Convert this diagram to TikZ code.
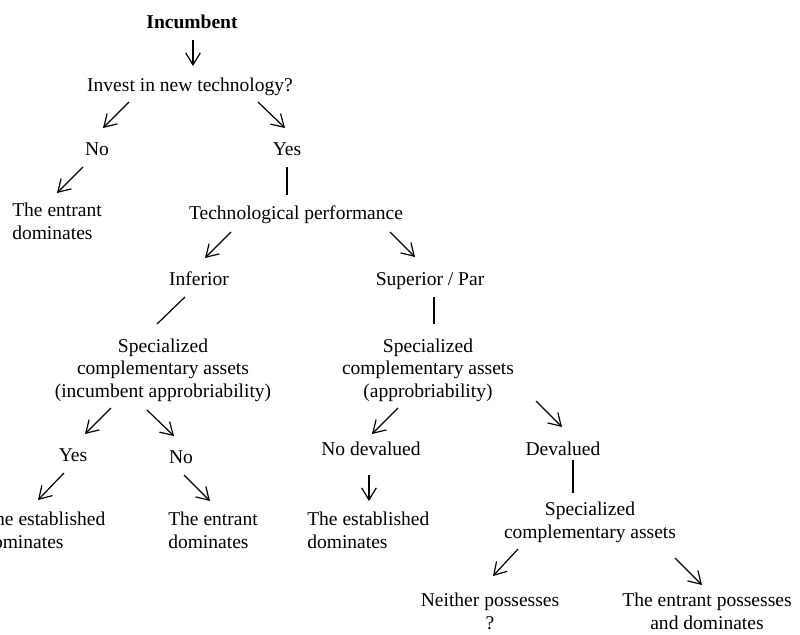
\documentclass[tikz,border=0pt]{standalone}
\usepackage{fontspec}
\setmainfont{Liberation Serif}
\usetikzlibrary{arrows.meta,calc}
\begin{document}
\begin{tikzpicture}[x=0.75pt,y=-0.75pt,
  lbl/.style={inner sep=0pt,anchor=base,font=\fontsize{14.65}{16.75}\selectfont},
  lblc/.style={lbl,align=center},
  lbll/.style={lbl,align=left,anchor=base west},
  arr/.style={line width=0.9pt,-{Straight Barb[length=9pt,width=11pt,line width=0.9pt]}},
  ln/.style={line width=0.9pt}]
\useasboundingbox (0,0) rectangle (800,635);

% decision tree nodes (multi-line nodes are placed by their last baseline)
\node[lbl,font=\fontsize{14.65}{16.75}\selectfont\bfseries] (inc) at (192,29) {Incumbent};
\node[lbl] (inv) at (190,92) {Invest in new technology?};
\node[lbl] (no) at (97,155) {No};
\node[lbl] (yes) at (287,155) {Yes};
\node[lbll] (ent1) at (12,239) {The entrant\\dominates};
\node[lbl] (tech) at (296,219) {Technological performance};
\node[lbl] (inf) at (199,285) {Inferior};
\node[lbl] (sup) at (430,285) {Superior / Par};
\node[lblc] (spec1) at (163,397) {Specialized\\complementary assets\\(incumbent approbriability)};
\node[lblc] (spec2) at (428,397) {Specialized\\complementary assets\\(approbriability)};
\node[lbl] (yes2) at (73,461) {Yes};
\node[lbl] (no2) at (181,463) {No};
\node[lbl] (nodev) at (371,455) {No devalued};
\node[lbl] (dev) at (563,455) {Devalued};
\node[lbll] (est1) at (-17,548) {The established\\dominates};
\node[lbll] (ent2) at (168,548) {The entrant\\dominates};
\node[lbll] (est2) at (307,548) {The established\\dominates};
\node[lblc] (spec3) at (590,538) {Specialized\\complementary assets};
\node[lblc] (neither) at (490,629) {Neither possesses\\?};
\node[lblc] (entposs) at (707,629) {The entrant possesses\\and dominates};

% connectors
\draw[arr] ($(inc.base)+(1,11)$) -- ($(inv.base)+(3,-26)$);
\draw[arr] ($(inv.base)+(-61,10)$) -- ($(no.base)+(6,-27)$);
\draw[arr] ($(inv.base)+(68,10)$) -- ($(yes.base)+(-2,-27)$);
\draw[arr] ($(no.base)+(-14,12)$) -- ($(ent1.base west)+(45,-46)$);
\draw[ln]  ($(yes.base)+(0,12)$) -- ($(tech.base)+(-9,-24)$);
\draw[arr] ($(tech.base)+(-65,13)$) -- ($(inf.base)+(6,-27)$);
\draw[arr] ($(tech.base)+(94,13)$) -- ($(sup.base)+(-15,-28)$);
\draw[ln]  ($(inf.base)+(-14,12)$) -- ($(spec1.base)+(-6,-73)$);
\draw[ln]  ($(sup.base)+(4,12)$) -- ($(spec2.base)+(6,-73)$);
\draw[arr] ($(spec1.base)+(-52,11)$) -- ($(yes2.base)+(12,-27)$);
\draw[arr] ($(spec1.base)+(-16,13)$) -- ($(no2.base)+(-7,-27)$);
\draw[arr] ($(spec2.base)+(-30,11)$) -- ($(nodev.base)+(1,-21)$);
\draw[arr] ($(spec2.base)+(108,4)$) -- ($(dev.base)+(-1,-28)$);
\draw[arr] ($(yes2.base)+(-9,12)$) -- ($(est1.base west)+(55,-48)$);
\draw[arr] ($(no2.base)+(3,12)$) -- ($(ent2.base west)+(42,-47)$);
\draw[arr] ($(nodev.base)+(-2,20)$) -- ($(est2.base west)+(62,-47)$);
\draw[ln]  ($(dev.base)+(10,5)$) -- ($(spec3.base)+(-17,-45)$);
\draw[arr] ($(spec3.base)+(-72,11)$) -- ($(neither.base)+(3,-53)$);
\draw[arr] ($(spec3.base)+(85,20)$) -- ($(entposs.base)+(-5,-44)$);
\end{tikzpicture}
\end{document}
